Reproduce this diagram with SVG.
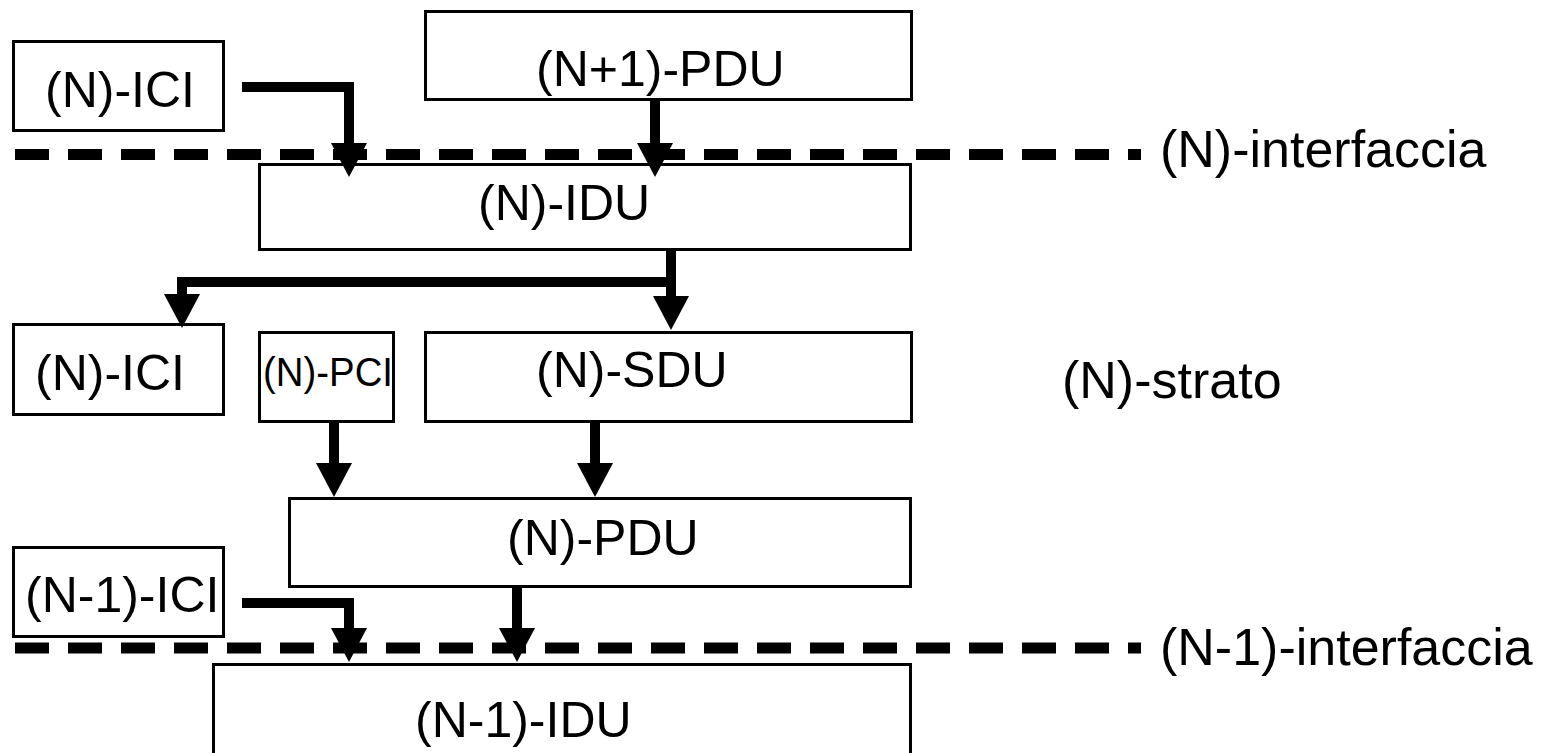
<svg xmlns="http://www.w3.org/2000/svg" width="1551" height="753" viewBox="0 0 1551 753">
<style>
  .box { fill: #ffffff; stroke: #000000; stroke-width: 3; }
  .lbl { font-family: "Liberation Sans", Arial, sans-serif; font-size: 50px; fill: #000000; }
  .side { font-family: "Liberation Sans", Arial, sans-serif; font-size: 52px; fill: #000000; }
  .conn { fill: none; stroke: #000000; stroke-width: 10; stroke-linejoin: miter; stroke-linecap: butt; }
  .dash { fill: none; stroke: #000000; stroke-width: 11; stroke-dasharray: 34 19; }
</style>
<defs>
  <marker id="ah" markerUnits="userSpaceOnUse" markerWidth="36" markerHeight="36" viewBox="0 0 34 36" refX="0" refY="18" orient="auto">
    <path d="M0,0 L34,18 L0,36 Z" fill="#000000"/>
  </marker>
</defs>
<rect width="1551" height="753" fill="#ffffff"/>

<g id="interfaces">
  <line class="dash" x1="15" y1="154.5" x2="1141" y2="154.5"/>
  <line class="dash" x1="15" y1="648" x2="1141" y2="648"/>
</g>

<g id="node-ici-top">
  <rect class="box" x="13.5" y="41.5" width="210" height="89"/>
  <text class="lbl" x="45" y="107">(N)-ICI</text>
</g>
<g id="node-pdu-n1">
  <rect class="box" x="425.5" y="11.5" width="486" height="88"/>
  <text class="lbl" x="536" y="86">(N+1)-PDU</text>
</g>
<g id="node-idu">
  <rect class="box" x="259.5" y="164.5" width="651" height="85"/>
  <text class="lbl" x="478" y="220">(N)-IDU</text>
</g>
<g id="node-ici-mid">
  <rect class="box" x="13.5" y="324.5" width="210" height="90"/>
  <text class="lbl" x="35" y="390">(N)-ICI</text>
</g>
<g id="node-pci">
  <rect class="box" x="259.5" y="332.5" width="134" height="89"/>
  <text class="lbl" x="263" y="386" style="font-size:40px" textLength="130" lengthAdjust="spacingAndGlyphs">(N)-PCI</text>
</g>
<g id="node-sdu">
  <rect class="box" x="425.5" y="332.5" width="486" height="89"/>
  <text class="lbl" x="536" y="387">(N)-SDU</text>
</g>
<g id="node-pdu">
  <rect class="box" x="289.5" y="498.5" width="621" height="88"/>
  <text class="lbl" x="507" y="555">(N)-PDU</text>
</g>
<g id="node-ici-low">
  <rect class="box" x="13.5" y="547.5" width="210" height="89"/>
  <text class="lbl" x="25" y="612">(N-1)-ICI</text>
</g>
<g id="node-idu-low">
  <rect class="box" x="213.5" y="664.5" width="697" height="120"/>
  <text class="lbl" x="415" y="737">(N-1)-IDU</text>
</g>

<g id="labels">
  <text class="side" x="1160" y="167">(N)-interfaccia</text>
  <text class="side" x="1062" y="398">(N)-strato</text>
  <text class="side" x="1160" y="665">(N-1)-interfaccia</text>
</g>

<g id="connectors">
  <path class="conn" d="M242,87 H349 V143" marker-end="url(#ah)"/>
  <path class="conn" d="M655,100 V143" marker-end="url(#ah)"/>
  <path class="conn" d="M671,250 V296" marker-end="url(#ah)"/>
  <path class="conn" d="M676,282 H182 V294" marker-end="url(#ah)"/>
  <path class="conn" d="M334,423 V463" marker-end="url(#ah)"/>
  <path class="conn" d="M595,423 V463" marker-end="url(#ah)"/>
  <path class="conn" d="M242,603 H349 V628" marker-end="url(#ah)"/>
  <path class="conn" d="M517,588 V628" marker-end="url(#ah)"/>
</g>
</svg>
